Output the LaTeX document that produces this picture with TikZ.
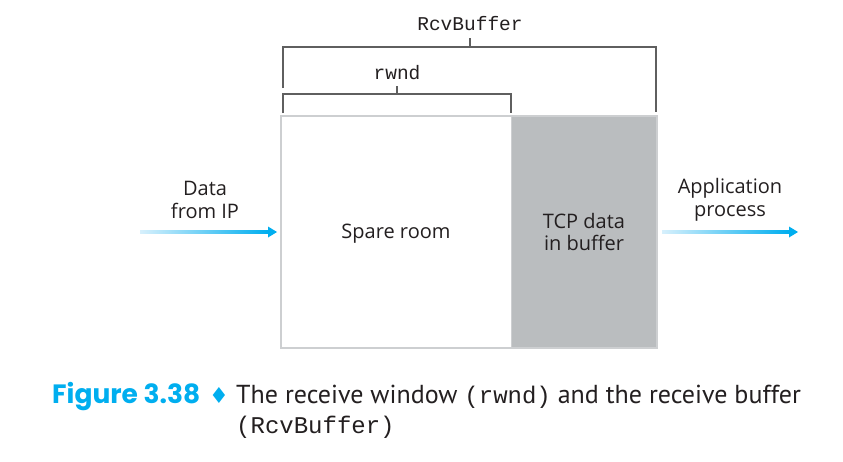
\documentclass[tikz,border=0pt]{standalone}
\usepackage{fontspec}
\setmainfont{Open Sans}
\newfontfamily\monof{Liberation Mono}
\newfontfamily\capf{PT Sans}
\newfontfamily\figf{Poppins}
\newfontfamily\symf{DejaVu Sans}
\usetikzlibrary{calc}
\definecolor{boxgray}{RGB}{186,189,191}
\definecolor{edgegray}{RGB}{205,207,209}
\definecolor{brk}{RGB}{95,95,95}
\definecolor{txt}{RGB}{35,31,32}
\definecolor{cyanA}{RGB}{0,174,239}
\definecolor{cyanL}{RGB}{215,240,252}
\tikzset{
  lbl/.style={font=\fontsize{20}{22.5}\selectfont, text=txt, align=center, inner sep=0pt},
  mono/.style={font=\monof\fontsize{19.5}{22}\selectfont, text=txt, inner sep=0pt},
  bracket/.style={draw=brk, line width=1.1pt},
  arrowshaft/.style={left color=cyanL, right color=cyanA, draw=none},
  arrowhead/.style={fill=cyanA, draw=none},
}
\begin{document}
\begin{tikzpicture}[x=1pt,y=-1pt]
\useasboundingbox (0,0) rectangle (843,461);
% buffer
\node[draw=none, fill=boxgray, minimum width=146pt, minimum height=232pt, anchor=north west, inner sep=0pt] (tcp) at (511,116) {};
\node[fill=white, minimum width=230pt, minimum height=232pt, anchor=north west, inner sep=0pt] (spare) at (281,116) {};
\draw[edgegray, line width=2pt] (spare.north west) rectangle (tcp.south east);
\draw[edgegray, line width=1pt] (spare.north east) -- (spare.south east);
\node[lbl] (sparetxt) at (396,234) {Spare room};
\node[lbl] (tcptxt) at (584,232) {TCP data\\in buffer};
% RcvBuffer bracket
\coordinate (r1) at (283,88);
\coordinate (r2) at (283,47);
\coordinate (r3) at (656,47);
\coordinate (r4) at (656,112);
\coordinate (rm) at (470,47);
\node[mono] (rcv) at (470,24) {RcvBuffer};
\draw[bracket] (r1) -- (r2) -- (r3) -- (r4);
\draw[bracket] (rm) -- (470,38);
% rwnd bracket
\coordinate (w1) at (283,113);
\coordinate (w2) at (283,94);
\coordinate (w3) at (511,94);
\coordinate (w4) at (511,113);
\coordinate (wm) at (397,94);
\node[mono] (rwnd) at (397,73) {rwnd};
\draw[bracket] (w1) -- (w2) -- (w3) -- (w4);
\draw[bracket] (wm) -- (397,86);
% left arrow
\node[lbl] (data) at (205,200) {Data\\from IP};
\coordinate (la) at (140,232);
\coordinate (lb) at (268,232);
\coordinate (lc) at (277,232);
\shade[arrowshaft] ($(la)+(0,-1.6)$) rectangle ($(lb)+(0,1.6)$);
\fill[arrowhead] ($(lb)+(0,-5.5)$) -- (lc) -- ($(lb)+(0,5.5)$) -- cycle;
% right arrow
\node[lbl] (app) at (730,200) {Application\\process};
\coordinate (ra) at (662,232);
\coordinate (rb) at (789,232);
\coordinate (rc) at (798,232);
\shade[arrowshaft] ($(ra)+(0,-1.6)$) rectangle ($(rb)+(0,1.6)$);
\fill[arrowhead] ($(rb)+(0,-5.5)$) -- (rc) -- ($(rb)+(0,5.5)$) -- cycle;
% caption
\node[anchor=base west, inner sep=0pt, text=cyanA, font=\figf\bfseries\fontsize{26.5}{28}\selectfont] (fig) at (52,403) {Figure 3.38};
\node[anchor=base, inner sep=0pt, text=cyanA, font=\symf\fontsize{22}{24}\selectfont] (dia) at (219,403) {♦};
\node[anchor=base west, inner sep=0pt, text=txt, font=\capf\fontsize{26}{28}\selectfont] (cap1) at (236,403) {The receive window {\monof\fontsize{24}{28}\selectfont(rwnd)} and the receive buffer};
\node[anchor=base west, inner sep=0pt, text=txt, font=\monof\fontsize{24}{28}\selectfont] (cap2) at (236,433) {(RcvBuffer)};
\end{tikzpicture}
\end{document}
